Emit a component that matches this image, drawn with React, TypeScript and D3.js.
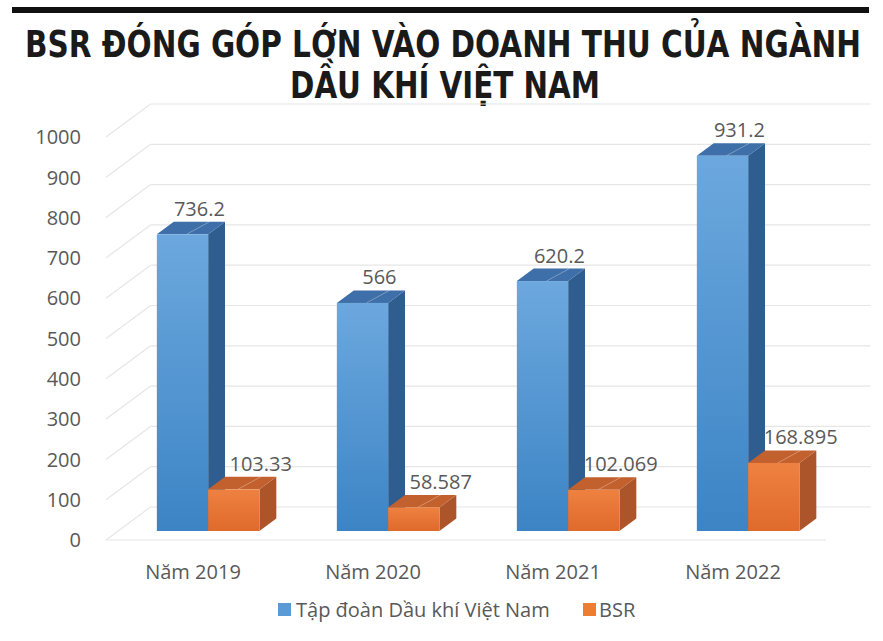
import { useEffect, useRef, useState } from 'react';
import * as d3 from 'd3';

const categories = ['Năm 2019', 'Năm 2020', 'Năm 2021', 'Năm 2022'];
const seriesNames = ['Tập đoàn Dầu khí Việt Nam', 'BSR'];
const pvnValues = [736.2, 566, 620.2, 931.2];
const bsrValues = [103.33, 58.587, 102.069, 168.895];
const yTicks = [0, 100, 200, 300, 400, 500, 600, 700, 800, 900, 1000];
const titleLines = ['BSR ĐÓNG GÓP LỚN VÀO DOANH THU CỦA NGÀNH', 'DẦU KHÍ VIỆT NAM'];

const W = 883;
const H = 641;
// oblique 3d: every unit of depth moves a point K px right and 1 px up
const K = 1.35;
const WALL_Z = 33;
const BAR_Z0 = 9;
const BAR_Z1 = 21.5;
const TXT = '#595959';
const FONT = '"Open Sans", "Noto Sans", sans-serif';

const colors = {
  blue: { top: '#3f6fa8', side: '#2f5d90', front: ['#6ca8de', '#3c84c5'] },
  orange: { top: '#c2612d', side: '#ad552a', front: ['#ee8141', '#df6a2b'] },
};

const x = d3.scaleBand().domain(categories).range([106, 826]).paddingInner(0.43).paddingOuter(0.215);
const xs = d3.scaleBand().domain(seriesNames).range([0, x.bandwidth()]);
const y = d3.scaleLinear().domain([0, 1000]).range([540, 137]);

const P = (px: number, py: number, z: number) => [px + z * K, py - z];
const pts = (list: number[][]) => list.map(p => p.join(',')).join(' ');

function Bar({ x0, x1, v, c, id }: { x0: number; x1: number; v: number; c: any; id: string }) {
  const yt = y(v), yb = y(0);
  const fTL = P(x0, yt, BAR_Z0), fTR = P(x1, yt, BAR_Z0), fBR = P(x1, yb, BAR_Z0), fBL = P(x0, yb, BAR_Z0);
  const bTL = P(x0, yt, BAR_Z1), bTR = P(x1, yt, BAR_Z1), bBR = P(x1, yb, BAR_Z1);
  const mid = (x0 + x1) / 2 + 4;
  const s1 = P(mid, yt, BAR_Z0), s2 = P(mid + 6, yt, BAR_Z1);
  return (
    <g>
      <polygon points={pts([fTR, bTR, bBR, fBR])} fill={c.side} />
      <polygon points={pts([fTL, fTR, bTR, bTL])} fill={c.top} />
      <line x1={s1[0]} y1={s1[1]} x2={s2[0]} y2={s2[1]} stroke="rgba(255,255,255,0.3)" strokeWidth={1} />
      <rect x={fTL[0]} y={fTL[1]} width={x1 - x0} height={fBL[1] - fTL[1]} fill={`url(#${id})`} />
    </g>
  );
}

// squeezes a bold title line horizontally to a target width (the original uses a condensed face)
function FitText({ text, cx, baseline, width }: { text: string; cx: number; baseline: number; width: number }) {
  const ref = useRef<SVGTextElement>(null);
  const [sx, setSx] = useState(0.8);
  useEffect(() => {
    if (!ref.current) return;
    const w = ref.current.getComputedTextLength();
    if (w > 0) setSx(width / w);
  }, [text, width]);
  return (
    <text ref={ref} transform={`translate(${cx},${baseline}) scale(${sx},1)`} x={0} y={0}>{text}</text>
  );
}

export default function App() {
  const backL = 106 + WALL_Z * K;
  const backR = 826 + WALL_Z * K;
  const series = [
    { name: seriesNames[0], values: pvnValues, c: colors.blue, id: 'gBlue', dx: 0 },
    { name: seriesNames[1], values: bsrValues, c: colors.orange, id: 'gOrange', dx: 10 },
  ];

  return (
    <svg width={W} height={H} style={{ display: 'block', position: 'absolute', left: 0, top: 0, background: '#fff' }}>
      <defs>
        {series.map(s => (
          <linearGradient key={s.id} id={s.id} x1="0" y1="0" x2="0" y2="1">
            <stop offset="0%" stopColor={s.c.front[0]} />
            <stop offset="100%" stopColor={s.c.front[1]} />
          </linearGradient>
        ))}
      </defs>

      <rect x={12} y={7} width={857} height={6} fill="#111" />
      <g fontFamily='"Liberation Sans Narrow", "DejaVu Sans Condensed", sans-serif' fontWeight="bold" fill="#1a1a1a" textAnchor="middle" fontSize={37}>
        <FitText text={titleLines[0]} cx={443} baseline={57} width={836} />
        <FitText text={titleLines[1]} cx={445} baseline={98} width={310} />
      </g>

      {/* walls */}
      <g stroke="#e6e6e6" strokeWidth={1.2} fill="none">
        {yTicks.map(t => (
          <g key={t}>
            <line x1={106} y1={y(t)} x2={backL} y2={y(t) - WALL_Z} />
            <line x1={backL} y1={y(t) - WALL_Z} x2={backR} y2={y(t) - WALL_Z} />
          </g>
        ))}
        <line x1={106} y1={y(0)} x2={826} y2={y(0)} />
      </g>

      {/* bars */}
      {categories.map((cat, i) => (
        <g key={cat}>
          {series.map(s => {
            const x0 = (x(cat) as number) + (xs(s.name) as number);
            return <Bar key={s.name} x0={x0} x1={x0 + xs.bandwidth()} v={s.values[i]} c={s.c} id={s.id} />;
          })}
        </g>
      ))}

      {/* value labels */}
      <g fontFamily={FONT} fontSize={20} fill={TXT} textAnchor="middle">
        {categories.map((cat, i) =>
          series.map(s => {
            const x0 = (x(cat) as number) + (xs(s.name) as number);
            const cx = x0 + xs.bandwidth() / 2 + BAR_Z1 * K + s.dx;
            return (
              <text key={cat + s.name} x={cx} y={y(s.values[i]) - BAR_Z1 - 6}>
                {String(s.values[i])}
              </text>
            );
          })
        )}
      </g>

      {/* axes text */}
      <g fontFamily={FONT} fontSize={20} fill={TXT}>
        {yTicks.map(t => (
          <text key={t} x={81} y={y(t)} dy="0.36em" textAnchor="end">{t}</text>
        ))}
        {categories.map(cat => (
          <text key={cat} x={(x(cat) as number) + x.bandwidth() / 2 - 3} y={579} textAnchor="middle">{cat}</text>
        ))}
      </g>

      {/* legend */}
      <g fontFamily={FONT} fontSize={20} fill={TXT}>
        <rect x={278} y={603} width={13} height={13} fill="#5b9bd5" />
        <text x={296} y={617}>{seriesNames[0]}</text>
        <rect x={583} y={603} width={13} height={13} fill="#ed7d31" />
        <text x={599} y={617}>{seriesNames[1]}</text>
      </g>
    </svg>
  );
}
